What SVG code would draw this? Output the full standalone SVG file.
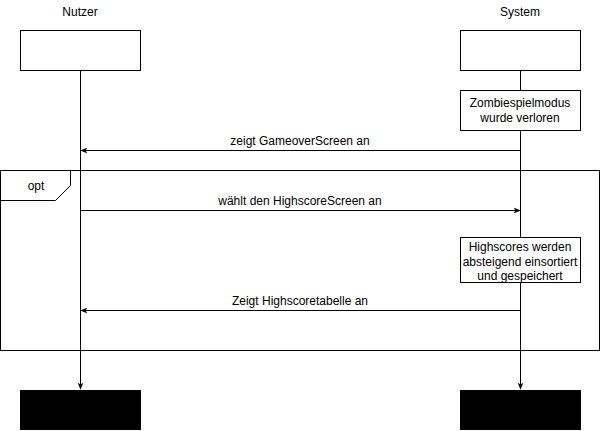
<svg xmlns="http://www.w3.org/2000/svg" width="601" height="431" viewBox="0 0 601 431">
<defs>
<style>
.t{font-family:"Liberation Sans",Arial,sans-serif;font-size:12px;fill:#000;text-anchor:middle}
.b{fill:#fff;stroke:#000;stroke-width:1}
.l{stroke:#000;stroke-width:1;fill:none}
</style>
<marker id="ah" viewBox="0 0 10 10" refX="9" refY="5" markerWidth="7" markerHeight="7" orient="auto" markerUnits="userSpaceOnUse">
<path d="M0,1 L10,5 L0,9 L2.5,5 Z" fill="#000"/>
</marker>
</defs>
<rect width="601" height="431" fill="#fff"/>
<g id="frame-opt">
<rect x="0.5" y="170.5" width="599" height="180" class="l"/>
<path d="M0.5 200.5 H55.5 L70.5 185.5 V170.5" class="l"/>
<text x="36" y="190" class="t">opt</text>
</g>
<g id="connectors">
<line x1="80.5" y1="70" x2="80.5" y2="389" class="l" marker-end="url(#ah)"/>
<line x1="520.5" y1="70" x2="520.5" y2="389" class="l" marker-end="url(#ah)"/>
<line x1="520" y1="150.5" x2="81" y2="150.5" class="l" marker-end="url(#ah)"/>
<text x="300" y="145" class="t">zeigt GameoverScreen an</text>
<line x1="81" y1="210.5" x2="520" y2="210.5" class="l" marker-end="url(#ah)"/>
<text x="300" y="205" class="t">wählt den HighscoreScreen an</text>
<line x1="520" y1="310.5" x2="81" y2="310.5" class="l" marker-end="url(#ah)"/>
<text x="300" y="305" class="t">Zeigt Highscoretabelle an</text>
</g>
<g id="nutzer">
<text x="80" y="16" class="t">Nutzer</text>
<rect x="20.5" y="30.5" width="120" height="40" class="b"/>
</g>
<g id="system">
<text x="520" y="16" class="t">System</text>
<rect x="460.5" y="30.5" width="120" height="40" class="b"/>
</g>
<g id="zombie">
<rect x="460.5" y="90.5" width="120" height="40" class="b"/>
<text x="520" y="107" class="t">Zombiespielmodus</text>
<text x="520" y="122" class="t">wurde verloren</text>
</g>
<g id="highscores">
<rect x="460.5" y="237.5" width="120" height="45" class="b"/>
<text x="520" y="251" class="t">Highscores werden</text>
<text x="520" y="265.5" class="t">absteigend einsortiert</text>
<text x="520" y="280" class="t">und gespeichert</text>
</g>
<g id="nutzer-end">
<rect x="20" y="390" width="121" height="40" fill="#000"/>
</g>
<g id="system-end">
<rect x="460" y="390" width="121" height="40" fill="#000"/>
</g>
</svg>
